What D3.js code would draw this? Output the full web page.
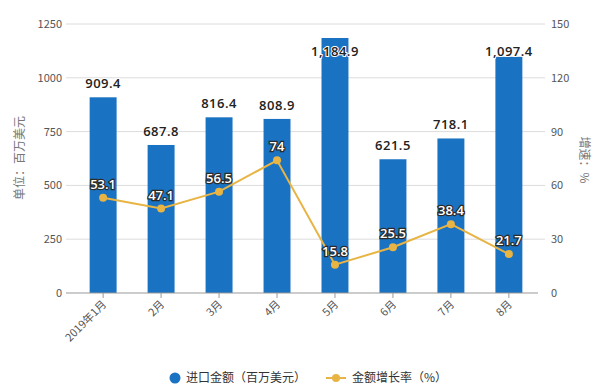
<!DOCTYPE html>
<html>
<head>
<meta charset="utf-8">
<script src="https://cdn.jsdelivr.net/npm/d3@7"></script>
<style>
  body { margin: 0; background: #fff; font-family: "Noto Sans CJK SC", "DejaVu Sans", sans-serif; }
  .grid line { stroke: #dcdcdc; }
  .axis text { fill: #555; font-size: 11px; }
</style>
</head>
<body>
<div class="chart"></div>
<script>
// data
var months = ["2019年1月", "2月", "3月", "4月", "5月", "6月", "7月", "8月"];
var imports = [909.4, 687.8, 816.4, 808.9, 1184.9, 621.5, 718.1, 1097.4];
var growth = [53.1, 47.1, 56.5, 74, 15.8, 25.5, 38.4, 21.7];
var leftTicks = [0, 250, 500, 750, 1000, 1250];
var rightTicks = [0, 30, 60, 90, 120, 150];

var W = 599, H = 391;
var blue = "#1a73c2", gold = "#e8b444";

var svg = d3.select(".chart").append("svg")
    .attr("width", W)
    .attr("height", H);

var x = d3.scaleBand()
    .domain(months)
    .range([74, 538])
    .paddingInner(0.535)
    .paddingOuter(0.27);

var yl = d3.scaleLinear().domain([0, 1250]).range([293, 24]);
var yr = d3.scaleLinear().domain([0, 150]).range([293, 24]);

// gridlines
svg.append("g")
  .attr("class", "grid")
  .selectAll("line")
  .data(leftTicks.slice(1))
  .join("line")
    .attr("x1", 66).attr("x2", 545)
    .attr("y1", d => yl(d)).attr("y2", d => yl(d));

// left axis labels
svg.append("g")
  .attr("class", "axis")
  .selectAll("text")
  .data(leftTicks)
  .join("text")
    .attr("x", 62)
    .attr("y", d => yl(d) + 4)
    .attr("text-anchor", "end")
    .text(d => d);

// right axis labels
svg.append("g")
  .attr("class", "axis")
  .selectAll("text")
  .data(rightTicks)
  .join("text")
    .attr("x", 551)
    .attr("y", d => yr(d) + 4)
    .text(d => d);

// bars
svg.append("g")
  .selectAll("rect")
  .data(imports)
  .join("rect")
    .attr("x", (d, i) => x(months[i]))
    .attr("y", d => yl(d))
    .attr("width", x.bandwidth())
    .attr("height", d => yl(0) - yl(d))
    .style("fill", blue);

// zero line
svg.append("line")
  .attr("x1", 66).attr("x2", 538)
  .attr("y1", yl(0)).attr("y2", yl(0))
  .attr("stroke", "#999");

// x ticks + labels
var xg = svg.append("g").attr("class", "axis");
months.forEach((m, i) => {
  var cx = x(m) + x.bandwidth() / 2;
  xg.append("line")
    .attr("x1", cx).attr("x2", cx)
    .attr("y1", yl(0)).attr("y2", yl(0) + 5)
    .attr("stroke", "#999");
  xg.append("text")
    .attr("transform", `translate(${cx + 4},${yl(0) + 12}) rotate(-45)`)
    .attr("text-anchor", "end")
    .text(m);
});

// bar value labels (top one pushed into the bar like the original)
svg.append("g")
  .selectAll("text")
  .data(imports)
  .join("text")
    .attr("x", (d, i) => x(months[i]) + x.bandwidth() / 2)
    .attr("y", d => Math.max(yl(d) - 9, 56))
    .attr("text-anchor", "middle")
    .style("font-size", "13px")
    .style("font-weight", "600")
    .style("font-family", "Open Sans, sans-serif")
    .style("fill", "#222")
    .style("stroke", "#fff")
    .style("stroke-width", "2px")
    .style("paint-order", "stroke")
    .style("letter-spacing", "0.5px")
    .text(d => d3.format(",.1f")(d));

// growth line
var drawGrowth = d3.line()
    .x((d, i) => x(months[i]) + x.bandwidth() / 2)
    .y(d => yr(d));

svg.append("path")
  .attr("d", drawGrowth(growth))
  .attr("stroke", gold)
  .attr("stroke-width", 2)
  .style("fill", "none");

svg.append("g")
  .selectAll("circle")
  .data(growth)
  .join("circle")
    .attr("cx", (d, i) => x(months[i]) + x.bandwidth() / 2)
    .attr("cy", d => yr(d))
    .attr("r", 4)
    .style("fill", gold);

svg.append("g")
  .selectAll("text")
  .data(growth)
  .join("text")
    .attr("x", (d, i) => x(months[i]) + x.bandwidth() / 2)
    .attr("y", d => yr(d) - 9)
    .attr("text-anchor", "middle")
    .style("font-size", "13px")
    .style("font-weight", "600")
    .style("font-family", "Open Sans, sans-serif")
    .style("fill", "#fff")
    .style("stroke", "#2a2a2a")
    .style("stroke-width", "2.5px")
    .style("paint-order", "stroke")
    .text(d => d);

// axis titles
svg.append("text")
  .attr("transform", "translate(24,158) rotate(-90)")
  .attr("text-anchor", "middle")
  .style("font-size", "12px")
  .style("fill", "#777")
  .text("单位：百万美元");

svg.append("text")
  .attr("transform", "translate(580,160) rotate(90)")
  .attr("text-anchor", "middle")
  .style("font-size", "12px")
  .style("fill", "#777")
  .text("增速：%");

// legend
var lg = svg.append("g").style("font-size", "12px").style("fill", "#333");
lg.append("circle").attr("cx", 175).attr("cy", 378).attr("r", 5.5).style("fill", blue);
lg.append("text").attr("x", 186).attr("y", 382).text("进口金额（百万美元）");
lg.append("line").attr("x1", 326).attr("x2", 346).attr("y1", 378).attr("y2", 378)
  .attr("stroke", gold).attr("stroke-width", 2);
lg.append("circle").attr("cx", 336).attr("cy", 378).attr("r", 4).style("fill", gold);
lg.append("text").attr("x", 352).attr("y", 382).text("金额增长率（%）");
</script>
</body>
</html>
